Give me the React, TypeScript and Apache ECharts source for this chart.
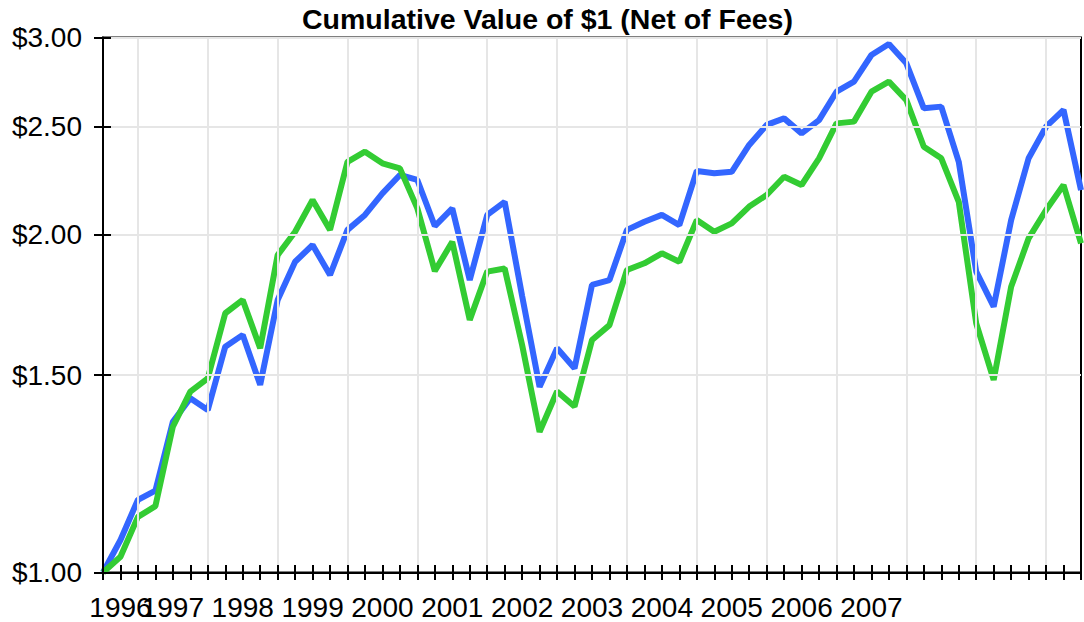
import React, { useEffect, useRef } from 'react';
import * as echarts from 'echarts';

const quarterNames: string[] = [];
for (let y = 1996; y <= 2010; y++) {
  for (let q = 1; q <= 4; q++) quarterNames.push(`${y} Q${q}`);
}
const categories = quarterNames.slice(0, 57);

const fundValues = [
  1.0, 1.069, 1.161, 1.183, 1.363, 1.43, 1.396, 1.59, 1.629, 1.47,
  1.75, 1.893, 1.959, 1.842, 2.021, 2.084, 2.178, 2.262, 2.239, 2.037,
  2.112, 1.823, 2.084, 2.141, 1.764, 1.464, 1.585, 1.521, 1.805, 1.823,
  2.021, 2.055, 2.084, 2.041, 2.281, 2.27, 2.277, 2.406, 2.507, 2.541,
  2.464, 2.532, 2.684, 2.74, 2.894, 2.96, 2.845, 2.594, 2.603, 2.324,
  1.855, 1.726, 2.062, 2.341, 2.498, 2.585, 2.193,
];

const benchmarkValues = [
  1.0, 1.033, 1.121, 1.146, 1.349, 1.45, 1.49, 1.703, 1.75, 1.585,
  1.919, 2.013, 2.149, 2.021, 2.324, 2.373, 2.317, 2.293, 2.112, 1.857,
  1.972, 1.68, 1.855, 1.867, 1.595, 1.335, 1.45, 1.406, 1.612, 1.662,
  1.861, 1.887, 1.926, 1.893, 2.062, 2.013, 2.048, 2.12, 2.171, 2.254,
  2.216, 2.341, 2.515, 2.524, 2.684, 2.74, 2.638, 2.397, 2.341, 2.141,
  1.668, 1.485, 1.798, 1.986, 2.105, 2.216, 1.966,
];

const yTickValues = [1.0, 1.5, 2.0, 2.5, 3.0];
const yearLabels = ['1996', '1997', '1998', '1999', '2000', '2001', '2002', '2003', '2004', '2005', '2006', '2007'];
const yearLabelIndices = [1, 4, 8, 12, 16, 20, 24, 28, 32, 36, 40, 44];

const FONT = '"Liberation Sans", Arial, sans-serif';

export default function App() {
  const ref = useRef<HTMLDivElement>(null);

  useEffect(() => {
    document.body.style.margin = '0';
    if (!ref.current) return;
    const chart = echarts.init(ref.current, undefined, { renderer: 'svg' });
    const logTicks = yTickValues.map((v) => Math.log(v));
    const labelFor = (_v: string, idx: number) => {
      const k = yearLabelIndices.indexOf(idx);
      return k >= 0 ? yearLabels[k] : '';
    };
    const yMin = Math.log(yTickValues[0]);
    const yMax = Math.log(yTickValues[yTickValues.length - 1]);

    chart.setOption({
      animation: false,
      backgroundColor: '#fff',
      title: {
        text: 'Cumulative Value of $1 (Net of Fees)',
        left: 302,
        top: 4,
        padding: 0,
        textStyle: { fontFamily: FONT, fontSize: 28.5, fontWeight: 'bold', color: '#000' },
      },
      grid: {
        left: 103,
        right: 1,
        top: 37.5,
        bottom: 49.5,
        show: true,
        borderColor: '#000',
        borderWidth: 2,
        backgroundColor: 'transparent',
      },
      xAxis: [
        {
          type: 'category',
          data: categories,
          boundaryGap: false,
          position: 'bottom',
          axisLine: { show: true, lineStyle: { color: '#000', width: 2 } },
          axisTick: { show: true, inside: false, length: 7.5, interval: 0, lineStyle: { color: '#000', width: 2 } },
          axisLabel: {
            show: true,
            interval: 0,
            margin: 20.5,
            formatter: labelFor,
            fontFamily: FONT,
            fontSize: 28,
            color: '#000',
          },
          splitLine: {
            show: true,
            interval: (idx: number) => idx % 4 === 2,
            lineStyle: { color: '#e6e6e6', width: 2 },
          },
          z: 3,
        },
        {
          type: 'category',
          data: categories,
          boundaryGap: false,
          position: 'bottom',
          axisLine: { show: false },
          axisTick: { show: true, inside: true, length: 7.5, interval: 0, lineStyle: { color: '#000', width: 2 } },
          axisLabel: { show: false },
          splitLine: { show: false },
          z: 3,
        },
      ],
      yAxis: [
        {
          type: 'value',
          min: yMin,
          max: yMax,
          position: 'left',
          axisLine: { show: true, lineStyle: { color: '#000', width: 2 } },
          axisTick: { show: true, inside: false, length: 9, customValues: logTicks, lineStyle: { color: '#000', width: 2 } },
          axisLabel: {
            show: true,
            customValues: logTicks,
            margin: 21,
            formatter: (v: number) => '$' + Math.exp(v).toFixed(2),
            fontFamily: FONT,
            fontSize: 28,
            color: '#000',
          },
          splitLine: { show: true, lineStyle: { color: '#e6e6e6', width: 2 } },
          z: 3,
        },
        {
          type: 'value',
          min: yMin,
          max: yMax,
          position: 'left',
          axisLine: { show: false },
          axisTick: { show: true, inside: true, length: 8, customValues: logTicks, lineStyle: { color: '#000', width: 2 } },
          axisLabel: { show: false, customValues: logTicks },
          splitLine: { show: false },
          z: 3,
        },
      ],
      series: [
        {
          name: 'Fund',
          type: 'line',
          xAxisIndex: 0,
          yAxisIndex: 0,
          data: fundValues.map((v) => Math.log(v)),
          symbol: 'none',
          lineStyle: { color: '#3366ff', width: 6 },
          z: 2,
        },
        {
          name: 'Benchmark',
          type: 'line',
          xAxisIndex: 0,
          yAxisIndex: 0,
          data: benchmarkValues.map((v) => Math.log(v)),
          symbol: 'none',
          lineStyle: { color: '#33cc33', width: 6 },
          z: 2,
        },
      ],
    });
    return () => chart.dispose();
  }, []);

  return (
    <div
      ref={ref}
      style={{ position: 'absolute', left: 0, top: 0, width: 1084, height: 622 }}
    />
  );
}
